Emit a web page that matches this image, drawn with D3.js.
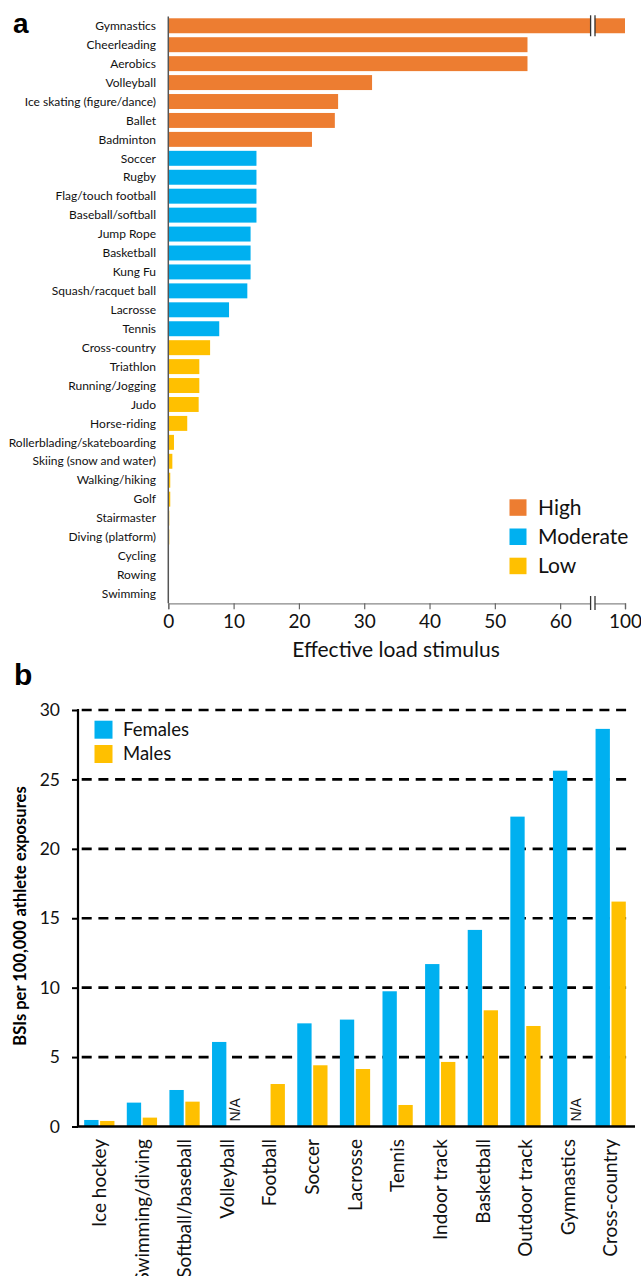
<!DOCTYPE html>
<html><head><meta charset="utf-8">
<script src="https://cdn.jsdelivr.net/npm/d3@7"></script>
<style>
html,body{margin:0;padding:0;background:#fff;}
svg{display:block;}
</style></head>
<body>
<svg id="chart" width="641" height="1276"></svg>
<script>
// ---------- Panel a data ----------
const sportsA = ["Gymnastics","Cheerleading","Aerobics","Volleyball","Ice skating (figure/dance)","Ballet","Badminton",
  "Soccer","Rugby","Flag/touch football","Baseball/softball","Jump Rope","Basketball","Kung Fu","Squash/racquet ball","Lacrosse","Tennis",
  "Cross-country","Triathlon","Running/Jogging","Judo","Horse-riding","Rollerblading/skateboarding","Skiing (snow and water)","Walking/hiking","Golf","Stairmaster","Diving (platform)","Cycling","Rowing","Swimming"];
const loadValues = [100,55,55,31.2,26,25.5,22,
  13.5,13.5,13.5,13.5,12.6,12.6,12.6,12.1,9.3,7.8,
  6.4,4.75,4.75,4.65,2.9,0.87,0.62,0.3,0.3,0.15,0.15,0.05,0,0];
const loadLevels = ["High","High","High","High","High","High","High",
  "Moderate","Moderate","Moderate","Moderate","Moderate","Moderate","Moderate","Moderate","Moderate","Moderate",
  "Low","Low","Low","Low","Low","Low","Low","Low","Low","Low","Low","Low","Low","Low"];
const levelNames = ["High","Moderate","Low"];
const xTicksA = [0,10,20,30,40,50,60,100];

// ---------- Panel b data ----------
const sportsB = ["Ice hockey","Swimming/diving","Softball/baseball","Volleyball","Football","Soccer","Lacrosse","Tennis","Indoor track","Basketball","Outdoor track","Gymnastics","Cross-country"];
const females = [0.47,1.72,2.63,6.09,null,7.43,7.7,9.74,11.7,14.16,22.32,25.63,28.64];
const males   = [0.4,0.64,1.79,"N/A",3.06,4.41,4.14,1.55,4.65,8.37,7.24,"N/A",16.2];
const sexNames = ["Females","Males"];
const yTicksB = [0,5,10,15,20,25,30];

const colors = {High:"#ED7D31", Moderate:"#00B0F0", Low:"#FFC000", Females:"#00B0F0", Males:"#FFC000"};
const FONT = "Lato, 'Liberation Sans', Arial, sans-serif";

const svg = d3.select("#chart");

// ================= Panel a =================
const gA = svg.append("g");
const xA = d3.scaleLinear().domain([0,65,100]).range([168.3,592.8,625]);
const yA = d3.scaleBand().domain(sportsA).range([16.3,603.3]).paddingInner(0.21).paddingOuter(0.105);

gA.selectAll("rect.bar").data(sportsA).join("rect")
  .attr("class","bar")
  .attr("x", xA(0))
  .attr("y", d => yA(d))
  .attr("width", (d,i) => Math.max(0, xA(loadValues[i]) - xA(0)))
  .attr("height", yA.bandwidth())
  .attr("fill", (d,i) => colors[loadLevels[i]]);

// break on top bar
const bx = xA(65);
const by0 = yA(sportsA[0]) - 3, by1 = yA(sportsA[0]) + yA.bandwidth() + 3;
gA.append("rect").attr("x", bx-2).attr("y", by0).attr("width",4).attr("height", by1-by0).attr("fill","#fff");
[-2.2, 2.2].forEach(o => gA.append("line").attr("x1",bx+o).attr("x2",bx+o).attr("y1",by0).attr("y2",by1)
  .attr("stroke","#333").attr("stroke-width",1.3));

// labels
gA.selectAll("text.lab").data(sportsA).join("text")
  .attr("class","lab")
  .attr("x", 156)
  .attr("y", d => yA(d) + yA.bandwidth()/2)
  .attr("dy","0.35em")
  .attr("text-anchor","end")
  .attr("font-family", FONT)
  .attr("font-size", 12)
  .attr("fill","#111")
  .text(d => d);

// y axis line
gA.append("line").attr("x1",168.3).attr("x2",168.3).attr("y1",16.5).attr("y2",603.3)
  .attr("stroke","#555").attr("stroke-width",1.5);

// x axis
const axA = d3.axisBottom(xA).tickValues(xTicksA).tickSize(6).tickPadding(5).tickFormat(d3.format("d"));
const axAg = gA.append("g").attr("transform","translate(0,603.3)").call(axA);
axAg.select(".domain").attr("stroke","#888").attr("stroke-width",1.3);
axAg.selectAll(".tick line").attr("stroke","#666").attr("stroke-width",1.2);
axAg.selectAll(".tick text").attr("font-family",FONT).attr("font-size",19).attr("fill","#111");
// axis break
gA.append("rect").attr("x", bx-2).attr("y", 596).attr("width",4).attr("height",14).attr("fill","#fff");
[-2.2, 2.2].forEach(o => gA.append("line").attr("x1",bx+o).attr("x2",bx+o).attr("y1",596).attr("y2",610)
  .attr("stroke","#333").attr("stroke-width",1.3));

gA.append("text").attr("x",396).attr("y",657).attr("text-anchor","middle")
  .attr("font-family",FONT).attr("font-size",21).attr("fill","#111").text("Effective load stimulus");

// legend a
const legA = gA.append("g");
levelNames.forEach((n,i) => {
  legA.append("rect").attr("x",509.5).attr("y",499.3 + i*29.2).attr("width",17).attr("height",16.5).attr("fill",colors[n]);
  legA.append("text").attr("x",538).attr("y",507.5 + i*29.2).attr("dy","0.35em")
    .attr("font-family",FONT).attr("font-size",21).attr("fill","#111").text(n);
});

svg.append("text").attr("x",13).attr("y",33).attr("font-family","'Liberation Sans', Arial, sans-serif")
  .attr("font-weight","bold").attr("font-size",28).attr("fill","#000").text("a");

// ================= Panel b =================
const gB = svg.append("g");
const x0 = d3.scaleBand().domain(sportsB).range([78,632]).paddingInner(0.29).paddingOuter(0.145);
const x1 = d3.scaleBand().domain(sexNames).range([0, x0.bandwidth()]).paddingInner(0.1);
const yB = d3.scaleLinear().domain([0,30]).range([1126.5,710]);

// gridlines
gB.selectAll("line.grid").data(yTicksB.filter(d => d > 0)).join("line")
  .attr("class","grid")
  .attr("x1",78).attr("x2",632)
  .attr("y1", d => yB(d)).attr("y2", d => yB(d))
  .attr("stroke","#000").attr("stroke-width",2.6).attr("stroke-dasharray","10,6.7").attr("stroke-dashoffset",-3.7);

// bars
const groups = gB.selectAll("g.grp").data(sportsB).join("g")
  .attr("class","grp").attr("transform", d => `translate(${x0(d)},0)`);
groups.each(function(d,i){
  const g = d3.select(this);
  [["Females",females[i]],["Males",males[i]]].forEach(([s,v]) => {
    if (typeof v === "number") {
      g.append("rect").attr("x", x1(s)).attr("y", yB(v)).attr("width", x1.bandwidth())
        .attr("height", yB(0)-yB(v)).attr("fill", colors[s]);
    } else if (v === "N/A") {
      const cx = x1(s) + x1.bandwidth()/2;
      g.append("text").attr("transform",`translate(${cx},${yB(0)-5}) rotate(-90)`)
        .attr("dy","0.35em").attr("text-anchor","start")
        .attr("font-family","'Liberation Sans', Arial, sans-serif").attr("font-size",14).attr("fill","#111").text("N/A");
    }
  });
});

// y axis
const axB = d3.axisLeft(yB).tickValues(yTicksB).tickSize(6).tickPadding(12).tickFormat(d3.format("d"));
const axBg = gB.append("g").attr("transform","translate(78,0)").call(axB);
axBg.select(".domain").remove();
axBg.selectAll(".tick line").attr("stroke","#000").attr("stroke-width",2);
axBg.selectAll(".tick text").attr("font-family",FONT).attr("font-size",17.5).attr("fill","#111");
gB.append("line").attr("x1",78).attr("x2",78).attr("y1",709).attr("y2",1127).attr("stroke","#000").attr("stroke-width",2.2);

// x axis
gB.append("line").attr("x1",77).attr("x2",635).attr("y1",yB(0)).attr("y2",yB(0)).attr("stroke","#000").attr("stroke-width",2.6);
gB.selectAll("text.xl").data(sportsB).join("text")
  .attr("class","xl")
  .attr("transform", d => `translate(${x0(d)+x0.bandwidth()/2},1139) rotate(-90)`)
  .attr("dy","0.35em").attr("text-anchor","end")
  .attr("font-family",FONT).attr("font-size",19).attr("fill","#111").text(d => d);

// y title
gB.append("text").attr("transform","translate(20,916) rotate(-90)")
  .attr("dy","0.35em").attr("text-anchor","middle")
  .attr("font-family",FONT).attr("font-weight","bold").attr("font-size",16.5).attr("fill","#000")
  .text("BSIs per 100,000 athlete exposures");

// legend b
sexNames.forEach((n,i) => {
  gB.append("rect").attr("x",94.5).attr("y",720.7 + i*24.3).attr("width",18).attr("height",18).attr("fill",colors[n]);
  gB.append("text").attr("x",123).attr("y",729.5 + i*24.3).attr("dy","0.35em")
    .attr("font-family",FONT).attr("font-size",18.5).attr("fill","#111").text(n);
});

svg.append("text").attr("x",14).attr("y",685).attr("font-family","'Liberation Sans', Arial, sans-serif")
  .attr("font-weight","bold").attr("font-size",30).attr("fill","#000").text("b");
</script>
</body></html>
